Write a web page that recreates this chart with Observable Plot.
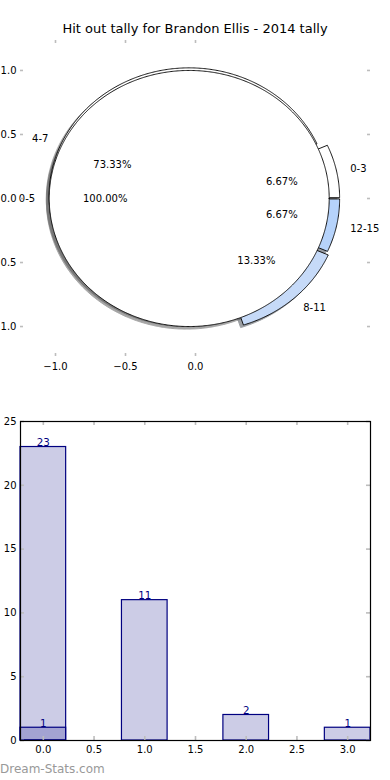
<!DOCTYPE html>
<html><head><meta charset="utf-8">
<script src="https://cdn.jsdelivr.net/npm/d3@7"></script>
<script src="https://cdn.jsdelivr.net/npm/@observablehq/plot@0.6"></script>
<style>
html,body{margin:0;padding:0;background:#fff;}
#page{position:relative;width:390px;height:780px;overflow:hidden;font-family:"DejaVu Sans",sans-serif;}
#title{position:absolute;left:0;width:390px;top:21px;text-align:center;font-size:13px;line-height:16px;color:#000;white-space:nowrap;}
#pie{position:absolute;left:0;top:0;}
#bars{position:absolute;left:0;top:390px;}
#wm{position:absolute;left:0;top:762px;font-size:12px;line-height:14px;color:#999;}
svg{overflow:visible;}
</style></head><body>
<div id="page"><div id="pie"></div><div id="bars"></div><div id="title"></div><div id="wm"></div></div>
<script>
// ---------- data ----------
const titleText = "Hit out tally for Brandon Ellis - 2014 tally";
const watermark = "Dream-Stats.com";
const outerLabels = ["0-3", "4-7", "8-11", "12-15"];
const outerCounts = [1, 11, 2, 1];
const innerLabels = ["0-5"];
const innerCounts = [15];
const barX = [0, 1, 2, 3];
const barValues = [23, 11, 2, 1];
const bar2X = [0];
const bar2Values = [1];
const pieXTicks = [-1, -0.5, 0];
const pieYTicks = [-1, -0.5, 0, 0.5, 1];
const barXTicks = [0, 0.5, 1, 1.5, 2, 2.5, 3];
const barYTicks = [0, 5, 10, 15, 20, 25];

// ---------- styles ----------
const outerColors = ["#ffffff", "#ffffff", "#c6daf8", "#b6d3fb"];
const innerColors = ["#ffffff"];
const outerExplode = [0.03, 0.05, 0.05, 0.03];
const innerExplode = [0.045];
const tickGray = "#bdbdbd";
const barWidth = 0.45;

document.getElementById("title").textContent = titleText;
document.getElementById("wm").textContent = watermark;

// inward tick marks drawn with rules, positioned through the scales
function innerTicks(xs, ys, xDom, yDom, innerW, innerH, len) {
  const ddx = len * (xDom[1] - xDom[0]) / innerW;
  const ddy = len * (yDom[1] - yDom[0]) / innerH;
  const st = {stroke: tickGray, strokeWidth: 1.6};
  return [
    Plot.ruleX(xs, {x: d => d, y1: yDom[1], y2: yDom[1] - ddy, ...st}),
    Plot.ruleX(xs, {x: d => d, y1: yDom[0], y2: yDom[0] + ddy, ...st}),
    Plot.ruleY(ys, {y: d => d, x1: xDom[0], x2: xDom[0] + ddx, ...st}),
    Plot.ruleY(ys, {y: d => d, x1: xDom[1], x2: xDom[1] - ddx, ...st})
  ];
}

// ---------- pie geometry ----------
const R = 1;
function wedges(counts, explode, colors, labels) {
  const total = d3.sum(counts);
  let cum = 0;
  return counts.map((c, i) => {
    const t1 = 360 * cum / total; cum += c; const t2 = 360 * cum / total;
    const tm = (t1 + t2) / 2 * Math.PI / 180;
    return {i, t1, t2, tm, cx: explode[i] * R * Math.cos(tm), cy: explode[i] * R * Math.sin(tm),
            frac: c / total, color: colors[i], label: labels[i]};
  });
}
function wedgePoints(w, ox = 0, oy = 0) {
  const pts = [];
  const full = Math.abs(w.t2 - w.t1 - 360) < 1e-9;
  if (!full) pts.push({x: w.cx + ox, y: w.cy + oy});
  const n = Math.max(2, Math.ceil((w.t2 - w.t1) / 0.5));
  for (let k = 0; k <= n; k++) {
    const a = (w.t1 + (w.t2 - w.t1) * k / n) * Math.PI / 180;
    pts.push({x: w.cx + ox + R * Math.cos(a), y: w.cy + oy + R * Math.sin(a)});
  }
  return pts;
}
function darken(c) {
  const col = d3.rgb(c);
  return d3.rgb(col.r * 0.3, col.g * 0.3, col.b * 0.3).formatHex();
}
const outerW = wedges(outerCounts, outerExplode, outerColors, outerLabels);
const innerW = wedges(innerCounts, innerExplode, innerColors, innerLabels);
const allW = [...outerW, ...innerW];

const pieMarks = [];
for (const w of allW) {
  pieMarks.push(Plot.line(wedgePoints(w, -0.02, -0.02), {x: "x", y: "y", curve: "linear-closed",
    fill: darken(w.color), stroke: darken(w.color), strokeWidth: 1, opacity: 0.5}));
}
for (const w of allW) {
  pieMarks.push(Plot.line(wedgePoints(w), {x: "x", y: "y", curve: "linear-closed",
    fill: w.color, stroke: "#000", strokeWidth: 0.9, strokeLinejoin: "miter"}));
}
const labelData = allW.map(w => ({x: w.cx + 1.1 * R * Math.cos(w.tm), y: w.cy + 1.1 * R * Math.sin(w.tm), text: w.label}));
const pctData = allW.map(w => ({x: w.cx + 0.6 * R * Math.cos(w.tm), y: w.cy + 0.6 * R * Math.sin(w.tm),
  text: (w.frac * 100).toFixed(2) + "%"}));
const fs = 10;
pieMarks.push(Plot.text(labelData.filter(d => d.x > 0), {x: "x", y: "y", text: "text", textAnchor: "start", fontSize: fs, fill: "#000"}));
pieMarks.push(Plot.text(labelData.filter(d => d.x <= 0), {x: "x", y: "y", text: "text", textAnchor: "end", fontSize: fs, fill: "#000"}));
pieMarks.push(Plot.text(pctData, {x: "x", y: "y", text: "text", textAnchor: "middle", fontSize: fs, fill: "#000"}));

const pieH = 390, pieMT = 40, pieMB = 34, pieML = 20, pieMR = 20;
const pieInnerH = pieH - pieMT - pieMB, pieInnerW = 390 - pieML - pieMR;
const pieXDom = [-1.25, 1.25], pieYDom = [-1.234, 1.234];
pieMarks.push(
  ...innerTicks(pieXTicks, pieYTicks, pieXDom, pieYDom, pieInnerW, pieInnerH, 3),
  Plot.axisX(pieXTicks, {anchor: "bottom", tickSize: 0, tickPadding: 6, tickFormat: d3.format(".1f"), fontSize: 10, label: null}),
  Plot.axisY(pieYTicks, {anchor: "left", tickSize: 0, tickPadding: 4, tickFormat: d3.format(".1f"), fontSize: 10, label: null})
);

const piePlot = Plot.plot({
  width: 390, height: pieH, marginTop: pieMT, marginBottom: pieMB, marginLeft: pieML, marginRight: pieMR,
  x: {domain: pieXDom, label: null},
  y: {domain: pieYDom, label: null},
  style: {fontFamily: "DejaVu Sans", fontSize: "10px", background: "transparent", overflow: "visible"},
  marks: pieMarks
});
document.getElementById("pie").appendChild(piePlot);

// ---------- bar chart ----------
const bars1 = barX.map((x, i) => ({x, v: barValues[i]}));
const bars2 = bar2X.map((x, i) => ({x, v: bar2Values[i]}));
const barH = 370, barMT = 31, barMB = 20, barML = 20, barMR = 20;
const barInnerH = barH - barMT - barMB, barInnerW = 390 - barML - barMR;
const barXDom = [-barWidth / 2, 3 + barWidth / 2], barYDom = [0, 25];
const barPlot = Plot.plot({
  width: 390, height: barH, marginTop: barMT, marginBottom: barMB, marginLeft: barML, marginRight: barMR,
  x: {domain: barXDom, label: null},
  y: {domain: barYDom, label: null},
  style: {fontFamily: "DejaVu Sans", fontSize: "10px", background: "transparent", overflow: "visible"},
  marks: [
    Plot.rectY(bars1, {x1: d => d.x - barWidth / 2, x2: d => d.x + barWidth / 2, y1: 0, y2: "v",
      fill: "navy", fillOpacity: 0.2, stroke: "navy", strokeWidth: 1.2}),
    Plot.rectY(bars2, {x1: d => d.x - barWidth / 2, x2: d => d.x + barWidth / 2, y1: 0, y2: "v",
      fill: "navy", fillOpacity: 0.2, stroke: "navy", strokeWidth: 1.2}),
    ...innerTicks(barXTicks, barYTicks, barXDom, barYDom, barInnerW, barInnerH, 4),
    Plot.frame({stroke: "#000", strokeWidth: 1.2}),
    Plot.text(bars1, {x: "x", y: "v", text: d => String(d.v), lineAnchor: "bottom", dy: -1, fill: "navy", fontSize: 10.3}),
    Plot.text(bars2, {x: "x", y: "v", text: d => String(d.v), lineAnchor: "bottom", dy: -1, fill: "navy", fontSize: 10.3}),
    Plot.axisX(barXTicks, {anchor: "bottom", tickSize: 0, tickPadding: 5, tickFormat: d3.format(".1f"), fontSize: 10, label: null}),
    Plot.axisY(barYTicks, {anchor: "left", tickSize: 0, tickPadding: 4, tickFormat: d3.format("d"), fontSize: 10, label: null})
  ]
});
document.getElementById("bars").appendChild(barPlot);
</script>
</body></html>
